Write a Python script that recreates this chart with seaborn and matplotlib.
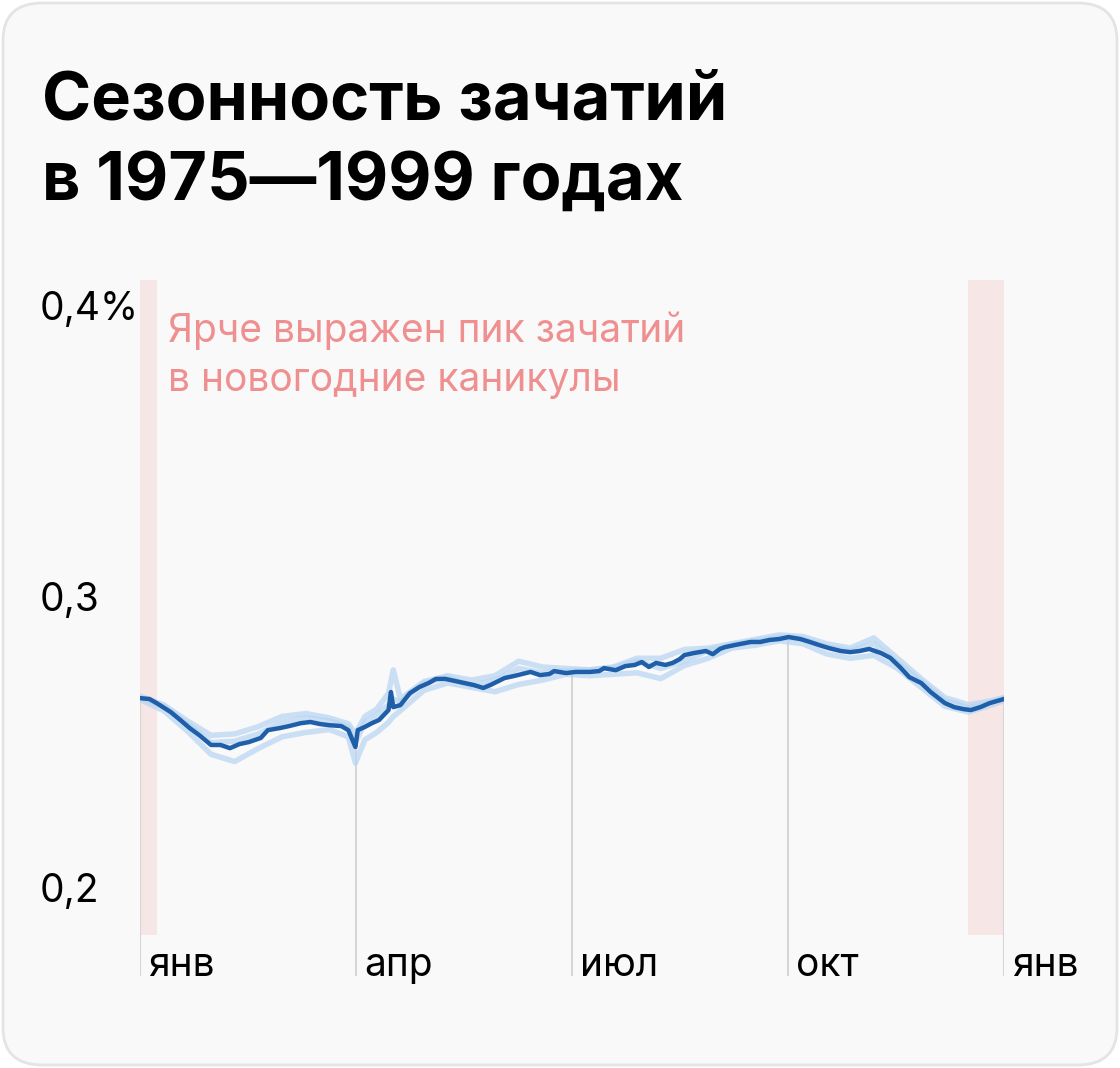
import numpy as np
import matplotlib
matplotlib.use('Agg')
import matplotlib.pyplot as plt
import matplotlib.transforms as mtransforms
from matplotlib.patches import FancyBboxPatch
import seaborn as sns

# Данные: день года и доля зачатий (%)
days = [0, 4, 7, 13, 17, 21, 25, 30, 34, 38, 42, 46, 51, 54, 59, 63, 68, 72, 76, 80,
        85, 88, 91, 92, 95, 98, 101, 105, 106, 107, 110, 114, 118, 122, 125, 129, 133,
        137, 141, 145, 148, 154, 158, 165, 169, 173, 175, 180, 184, 190, 194, 196, 201,
        205, 209, 212, 215, 218, 222, 225, 228, 230, 234, 239, 242, 245, 247, 251, 258,
        262, 266, 270, 274, 279, 283, 287, 291, 296, 300, 304, 308, 313, 317, 321, 325,
        330, 334, 340, 344, 348, 351, 355, 359, 365]
main_vals = [0.2663, 0.2660, 0.2646, 0.2615, 0.2588, 0.2560, 0.2536, 0.2502, 0.2502, 0.2491,
             0.2505, 0.2512, 0.2526, 0.2553, 0.2560, 0.2567, 0.2577, 0.2581, 0.2574, 0.2570,
             0.2567, 0.2553, 0.2495, 0.2553, 0.2564, 0.2577, 0.2588, 0.2622, 0.2684, 0.2632,
             0.2639, 0.2680, 0.2701, 0.2715, 0.2729, 0.2729, 0.2722, 0.2715, 0.2708, 0.2698,
             0.2708, 0.2732, 0.2739, 0.2753, 0.2742, 0.2746, 0.2756, 0.2749, 0.2753, 0.2753,
             0.2756, 0.2766, 0.2759, 0.2773, 0.2777, 0.2787, 0.2770, 0.2784, 0.2777, 0.2784,
             0.2797, 0.2811, 0.2818, 0.2825, 0.2814, 0.2832, 0.2838, 0.2845, 0.2856, 0.2856,
             0.2863, 0.2866, 0.2873, 0.2866, 0.2856, 0.2845, 0.2835, 0.2825, 0.2821, 0.2825,
             0.2832, 0.2818, 0.2801, 0.2770, 0.2735, 0.2715, 0.2684, 0.2646, 0.2632, 0.2625,
             0.2622, 0.2632, 0.2646, 0.2660]

# Отдельные пятилетки (светлые линии), более грубая сетка
sub_days = [0, 10, 20, 30, 40, 50, 60, 70, 80, 88, 91, 95, 100, 105, 107, 110, 120, 130, 140,
            150, 160, 170, 180, 190, 200, 210, 220, 230, 240, 250, 260, 270, 280, 290, 300,
            310, 320, 330, 340, 350, 360, 365]
sub_a = [0.2670, 0.2640, 0.2585, 0.2535, 0.2540, 0.2565, 0.2600, 0.2610, 0.2595, 0.2575,
         0.2540, 0.2600, 0.2625, 0.2680, 0.2760, 0.2660, 0.2720, 0.2740, 0.2725, 0.2740,
         0.2790, 0.2770, 0.2765, 0.2760, 0.2770, 0.2800, 0.2800, 0.2830, 0.2835, 0.2850,
         0.2865, 0.2880, 0.2875, 0.2850, 0.2835, 0.2870, 0.2800, 0.2730, 0.2665, 0.2640,
         0.2655, 0.2665]
sub_b = [0.2658, 0.2620, 0.2550, 0.2470, 0.2445, 0.2490, 0.2530, 0.2545, 0.2555, 0.2530,
         0.2440, 0.2520, 0.2545, 0.2580, 0.2600, 0.2620, 0.2690, 0.2715, 0.2700, 0.2685,
         0.2710, 0.2725, 0.2745, 0.2740, 0.2745, 0.2750, 0.2730, 0.2775, 0.2800, 0.2835,
         0.2845, 0.2860, 0.2850, 0.2815, 0.2800, 0.2810, 0.2765, 0.2700, 0.2635, 0.2615,
         0.2640, 0.2655]
sub_c = [0.2665, 0.2635, 0.2575, 0.2510, 0.2515, 0.2540, 0.2580, 0.2595, 0.2585, 0.2565,
         0.2510, 0.2580, 0.2605, 0.2640, 0.2660, 0.2650, 0.2715, 0.2735, 0.2705, 0.2725,
         0.2765, 0.2750, 0.2757, 0.2760, 0.2768, 0.2790, 0.2765, 0.2790, 0.2827, 0.2847,
         0.2860, 0.2872, 0.2868, 0.2840, 0.2825, 0.2850, 0.2785, 0.2720, 0.2655, 0.2630,
         0.2650, 0.2662]

month_days = [0, 91.25, 182.5, 273.75, 365]
month_labels = ['янв', 'апр', 'июл', 'окт', 'янв']
y_ticks = [0.4, 0.3, 0.2]
y_labels = ['0,4%', '0,3', '0,2']
holiday_spans = [(0, 7), (350, 365)]

sns.set_style("white")
plt.rcParams['font.family'] = ['Inter', 'DejaVu Sans']

fig = plt.figure(figsize=(11.2, 10.68), dpi=100)
fig.patch.set_facecolor('white')

# карточка
card = FancyBboxPatch((3 / 1120, 3 / 1068), 1114 / 1120, 1062 / 1068,
                      boxstyle="round,pad=0,rounding_size=0.035",
                      transform=fig.transFigure, facecolor='#f9f9f9',
                      edgecolor='#e4e4e4', linewidth=2, zorder=-10)
fig.patches.append(card)

fig.text(42 / 1120, 1 - 120 / 1068, 'Сезонность зачатий', fontsize=48,
         fontweight='bold', color='black', va='baseline')
fig.text(42 / 1120, 1 - 200 / 1068, 'в 1975—1999 годах', fontsize=48,
         fontweight='bold', color='black', va='baseline')

y_top, y_bot = 0.41, 0.1708
shade_bot = 0.185
ax = fig.add_axes([140 / 1120, 1 - 976 / 1068, 864 / 1120, 696 / 1068])
ax.set_facecolor('none')
ax.set_zorder(5)
ax.set_xlim(0, 365)
ax.set_ylim(y_bot, y_top)
for s in ax.spines.values():
    s.set_visible(False)
ax.set_xticks([])
ax.set_yticks([])

for a, b in holiday_spans:
    ax.fill_between([a, b], shade_bot, y_top, color='#f6e6e6', linewidth=0, zorder=1)

# вертикальные линии месяцев до кривой
line_tops = np.interp(month_days, days, main_vals)
ax.vlines(month_days, y_bot, line_tops, color='#d6d6d6', linewidth=1.5, zorder=2)

for series in [sub_a, sub_b, sub_c]:
    sns.lineplot(x=sub_days, y=series, ax=ax, color='#b7d5f2', linewidth=4,
                 alpha=0.7, zorder=3)
sns.lineplot(x=days, y=main_vals, ax=ax, color='#1f5ea8', linewidth=3.2, zorder=4)
ax.set_xlabel('')
ax.set_ylabel('')

for d, lab in zip(month_days, month_labels):
    ax.text(d + 3.4, y_bot, lab, fontsize=28, color='black', va='baseline', ha='left')

trans = mtransforms.blended_transform_factory(fig.transFigure, ax.transData)
for v, lab in zip(y_ticks, y_labels):
    ax.text(40 / 1120, v, lab, transform=trans, fontsize=28, color='black',
            va='center', ha='left')

ax.text(12, 0.3842, 'Ярче выражен пик зачатий\nв новогодние каникулы', fontsize=28,
        color='#ef8f8f', va='center', ha='left', linespacing=1.42)

fig.savefig('out.png', dpi=100, facecolor=fig.get_facecolor())
